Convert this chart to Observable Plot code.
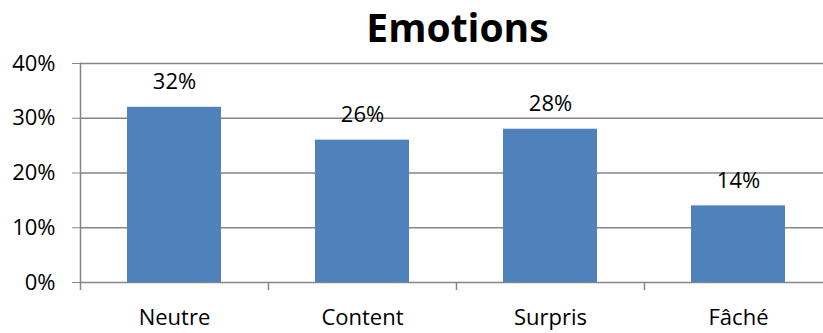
<!DOCTYPE html>
<html>
<head>
<meta charset="utf-8">
<script src="https://cdn.jsdelivr.net/npm/d3@7"></script>
<script src="https://cdn.jsdelivr.net/npm/@observablehq/plot@0.6"></script>
<style>
  body { margin: 0; background: #fff; font-family: "Open Sans", sans-serif; }
  #title { height: 54px; width: 823px; text-align: center; font-weight: bold; font-size: 39px; line-height: 54px; color: #000; padding-left: 92px; box-sizing: border-box; }
</style>
</head>
<body>
<div id="title">Emotions</div>
<div id="chart"></div>
<script>
const categories = ["Neutre", "Content", "Surpris", "Fâché"];
const values = [0.32, 0.26, 0.28, 0.14];
const yTicks = [0, 0.1, 0.2, 0.3, 0.4];

const data = categories.map((c, i) => ({category: c, value: values[i]}));
const pct = d3.format(".0%");

const chart = Plot.plot({
  width: 823,
  height: 279,
  marginTop: 9,
  marginBottom: 51,
  marginLeft: 80,
  marginRight: 0,
  style: {fontFamily: "Open Sans, sans-serif", fontSize: "22px", color: "#000", background: "#fff", overflow: "visible"},
  x: {domain: categories, range: [80, 832], paddingInner: 0.5, paddingOuter: 0.25, align: 0.5},
  y: {domain: [0, 0.4]},
  marks: [
    Plot.ruleY(yTicks, {stroke: "#868686", strokeWidth: 1.5}),
    Plot.frame({anchor: "left", stroke: "#868686", strokeWidth: 1.5}),
    Plot.axisY({ticks: yTicks, tickFormat: pct, tickSize: 8, tickPadding: 17, stroke: "#868686", strokeOpacity: 1, fill: "#000", fontSize: 22, label: null}),
    Plot.axisX({tickSize: 8, text: null, dx: -94, stroke: "#868686", strokeWidth: 1.5, strokeOpacity: 1, label: null}),
    Plot.axisX({tickSize: 0, tickPadding: 27, fill: "#000", fontSize: 22, label: null}),
    Plot.barY(data, {x: "category", y: "value", fill: "#4F81BD"}),
    Plot.text(data, {x: "category", y: "value", text: d => pct(d.value), lineAnchor: "bottom", dy: -18, fontSize: 22, fill: "#000"})
  ]
});
document.getElementById("chart").appendChild(chart);
</script>
</body>
</html>
